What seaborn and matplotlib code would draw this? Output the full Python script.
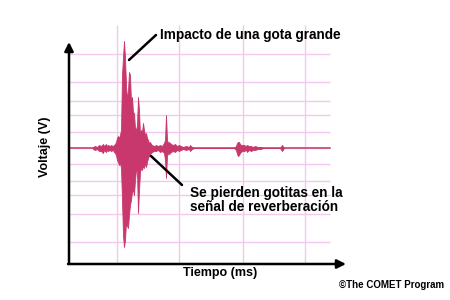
import numpy as np
import pandas as pd
import matplotlib
matplotlib.use("Agg")
import matplotlib.pyplot as plt
import seaborn as sns

# ---- data (time in ms-like units, voltage in arbitrary units) ----
tiempo = [24, 26, 28, 30, 32, 34, 35, 36, 37, 38, 39, 41, 42, 44, 45, 46, 47, 48, 49, 50,
          51, 52, 53, 54, 55, 56, 57, 58, 59, 60, 61, 62, 63, 64, 65, 66, 67, 68, 69, 70,
          71, 72, 73, 74, 75, 76, 77, 78, 79, 80, 81, 82, 83, 85, 87, 89, 91, 93, 95, 96,
          97, 98, 99, 100, 102, 104, 106, 108, 110, 112, 114, 117, 120, 121, 123, 125,
          165, 167, 168, 169, 170, 171, 172, 173, 175, 177, 178, 180, 182, 184, 186, 189,
          192, 194, 211, 213, 215]
v_max = [1, 2, 1, 3, 2, 4, 2, 3, 4, 2, 3, 2, 3, 2, 3, 4, 6, 10, 12, 10,
         13, 18, 73, 91, 107, 90, 63, 48, 58, 76, 73, 46, 51, 36, 35, 20, 18, 23, 51, 38,
         13, 18, 16, 25, 18, 13, 15, 10, 8, 5, 6, 4, 3, 2, 3, 2, 3, 2, 5, 8,
         33, 8, 5, 6, 4, 3, 4, 2, 3, 2, 1, 2, 1, 3, 1, 0,
         0, 2, 5, 6, 6, 4, 3, 3, 3, 2, 3, 2, 2, 1, 2, 1,
         1, 0, 0, 3, 0]
v_min = [-1, -2, -1, -3, -3, -5, -2, -3, -4, -2, -3, -2, -3, -2, -4, -5, -7, -12, -14, -17,
         -15, -20, -52, -87, -99, -92, -74, -78, -80, -67, -57, -52, -44, -42, -47, -32, -22, -24, -65, -42,
         -24, -20, -22, -18, -20, -15, -19, -14, -10, -8, -6, -5, -4, -3, -3, -2, -4, -3, -5, -12,
         -30, -8, -5, -6, -4, -3, -4, -2, -3, -2, -1, -2, -1, -3, -1, 0,
         0, -2, -6, -8, -7, -5, -4, -3, -3, -2, -4, -2, -3, -2, -2, -1,
         -1, 0, 0, -3, 0]
linea_base_t = [0, 261]
linea_base_v = [0, 0]
rejilla_t = [48, 110, 174, 236]
rejilla_v = [-94, -66, -47, -33, -16, 0, 16, 33, 47, 66, 94]

SIGNAL = "#C8386C"
BASE = "#D05A84"
GRID = "#F3C8EE"

sns.set_theme(style="white")
plt.rcParams["font.family"] = ["Liberation Sans", "DejaVu Sans"]

W, H = 450, 300
fig = plt.figure(figsize=(4.5, 3.0), dpi=100)
fig.patch.set_facecolor("white")
ax = fig.add_axes([69 / W, 1 - 264 / H, 281 / W, 244 / H])
ax.set_xlim(0, 281)
ax.set_ylim(-116, 128)
ax.set_axis_off()

# grid
ax.hlines(rejilla_v, 0, 261, colors=GRID, lw=1.0, zorder=1)
ax.vlines(rejilla_t, -116, 123, colors=GRID, lw=1.0, zorder=1)

# signal baseline and envelope
df = pd.DataFrame({"t": tiempo, "vmax": v_max, "vmin": v_min})
sns.lineplot(x=linea_base_t, y=linea_base_v, ax=ax, color=BASE, lw=1.4, zorder=2)
ax.fill_between(df["t"], df["vmin"], df["vmax"], color=SIGNAL, lw=0.6,
                edgecolor=SIGNAL, zorder=3)

# axes arrows
arrow = dict(arrowstyle="-|>", lw=1.8, color="black", mutation_scale=13,
             shrinkA=0, shrinkB=0)
ax.annotate("", xy=(0, 106), xytext=(0, -116), arrowprops=arrow, annotation_clip=False)
ax.annotate("", xy=(277, -116), xytext=(-1, -116), arrowprops=arrow, annotation_clip=False)

# annotation leader lines
ax.plot([60, 87], [88, 113], color="black", lw=1.8, zorder=5, clip_on=False)
ax.plot([82, 113], [-8, -37], color="black", lw=1.8, zorder=5, clip_on=False)

def px(x, y):
    return x / W, 1 - y / H

kw = dict(fontweight="bold", color="black")
fig.text(*px(160, 35), "Impacto de una gota grande", fontsize=9.8, va="center", ha="left", **kw)
fig.text(*px(190, 193), "Se pierden gotitas en la", fontsize=9.8, va="center", ha="left", **kw)
fig.text(*px(190, 207), "señal de reverberación", fontsize=9.8, va="center", ha="left", **kw)
fig.text(*px(220, 273), "Tiempo (ms)", fontsize=9, va="center", ha="center", **kw)
fig.text(*px(45, 147), "Voltaje (V)", fontsize=9, va="center", ha="center", rotation=90, **kw)
fig.text(*px(339, 285), "©The COMET Program", fontsize=7, va="center", ha="left", **kw)

fig.savefig("out.png", dpi=100, facecolor="white")
